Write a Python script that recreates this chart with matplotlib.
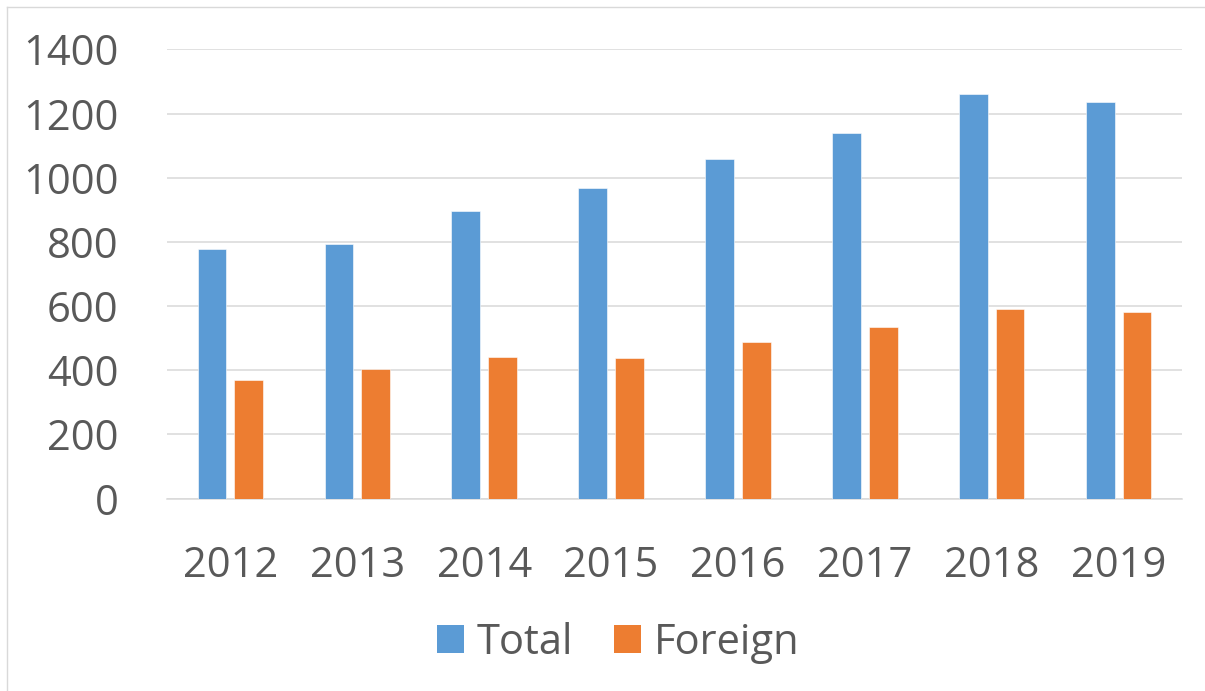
import matplotlib
matplotlib.use("Agg")
import matplotlib.pyplot as plt
import numpy as np
from matplotlib.patches import Patch
from matplotlib.lines import Line2D

years = ["2012", "2013", "2014", "2015", "2016", "2017", "2018", "2019"]
total = [777, 795, 895, 969, 1058, 1139, 1261, 1236]
foreign = [369, 405, 441, 437, 488, 536, 590, 581]
series_names = ["Total", "Foreign"]
colors = ["#5B9BD5", "#ED7D31"]

plt.rcParams['font.family'] = ['Open Sans', 'DejaVu Sans']
text_color = "#595959"
fs = 30

fig = plt.figure(figsize=(12.05, 6.91), dpi=100)
W, H = 1205, 691
ax = fig.add_axes([167 / W, 1 - 498.7 / H, (1182 - 167) / W, (498.7 - 49.3) / H])

x = np.arange(len(years))
bw = 0.226
off = 0.145
ax.bar(x - off, total, width=bw, color=colors[0], edgecolor="white", linewidth=0.4, zorder=3)
ax.bar(x + off, foreign, width=bw, color=colors[1], edgecolor="white", linewidth=0.4, zorder=3)

ax.set_xlim(-0.5, len(years) - 0.5)
ax.set_ylim(0, 1400)
ax.set_yticks(np.arange(0, 1401, 200))
ax.set_xticks(x)
ax.set_xticklabels(years)
ax.yaxis.grid(True, color="#d9d9d9", linewidth=1.1, zorder=0)
ax.set_axisbelow(True)
for s in ["top", "right", "left"]:
    ax.spines[s].set_visible(False)
ax.spines["bottom"].set_color("#d9d9d9")
ax.spines["bottom"].set_linewidth(1.1)
ax.tick_params(axis="both", length=0, labelsize=fs, colors=text_color)
ax.tick_params(axis="y", pad=35)
ax.tick_params(axis="x", pad=33)

handles = [Patch(facecolor=c, edgecolor="none") for c in colors]
fig.legend(handles, series_names, loc="center", bbox_to_anchor=(618 / W, 1 - 643 / H),
           ncol=2, frameon=False, fontsize=fs, labelcolor=text_color,
           handlelength=0.65, handleheight=0.65, handletextpad=0.3, columnspacing=1.0)

# chart border (left and top visible)
fig.add_artist(Line2D([6.5 / W, 6.5 / W], [0, 1 - 7 / H], transform=fig.transFigure, color="#d9d9d9", linewidth=1.0))
fig.add_artist(Line2D([6.5 / W, 1], [1 - 7 / H, 1 - 7 / H], transform=fig.transFigure, color="#d9d9d9", linewidth=1.0))

fig.savefig("out.png", dpi=100)
